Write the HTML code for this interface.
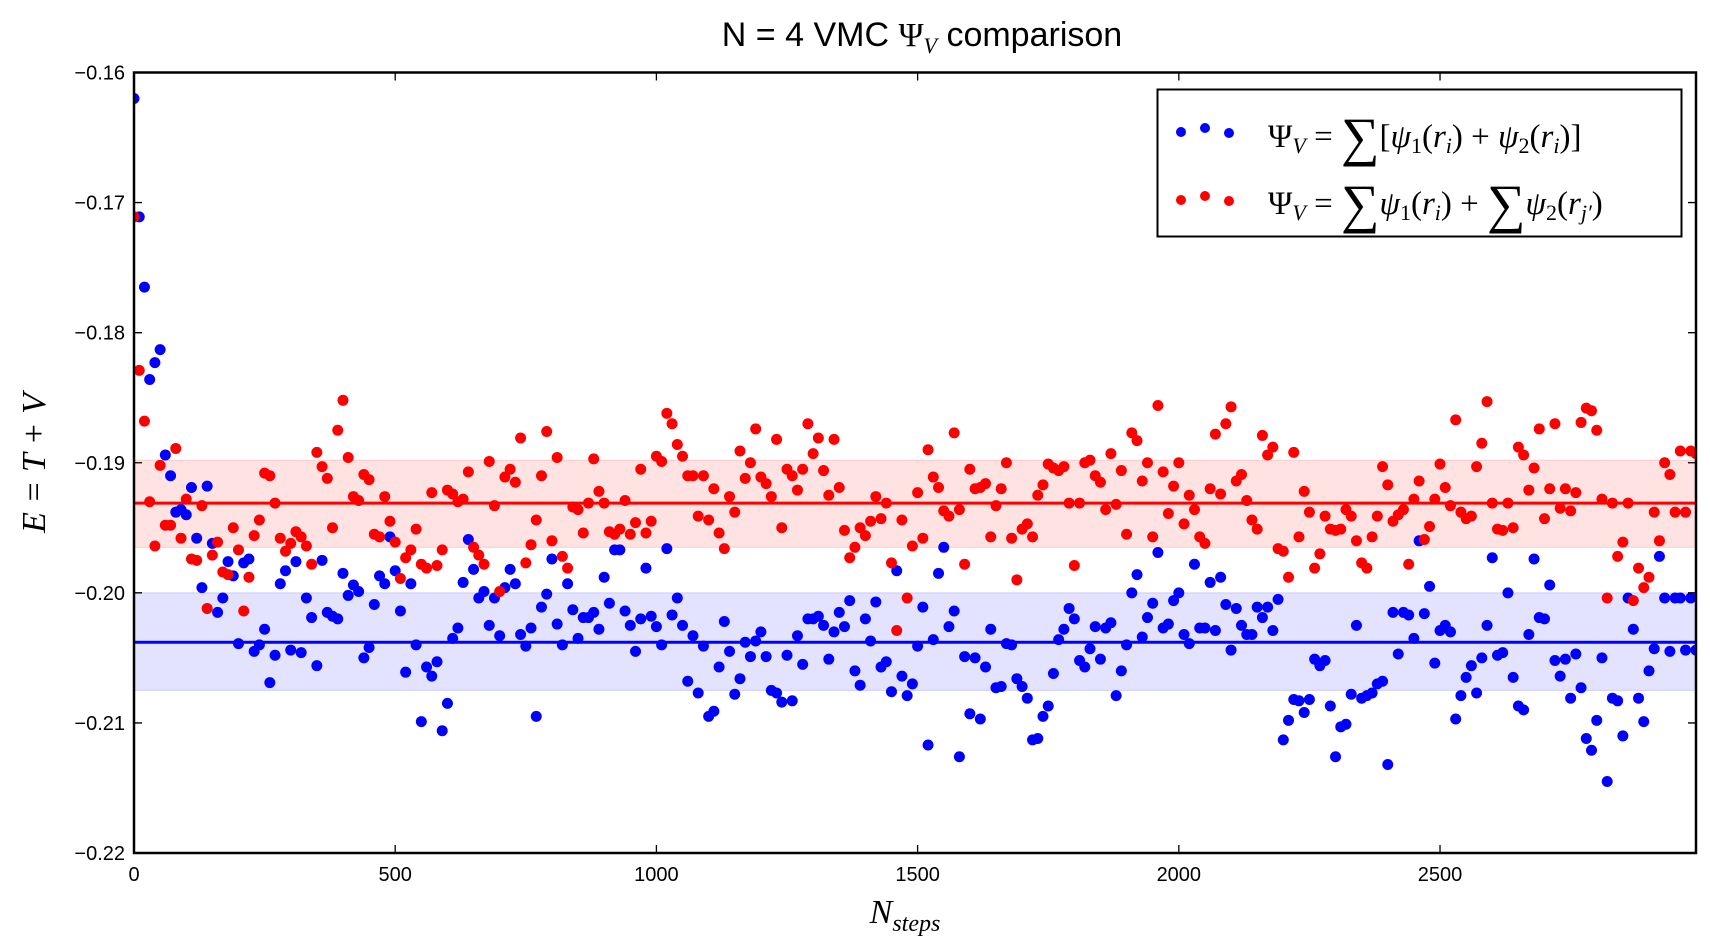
<!DOCTYPE html>
<html><head><meta charset="utf-8"><style>
html,body{margin:0;padding:0;background:#fff;}
svg{display:block;}
text{font-family:"Liberation Sans",sans-serif;}
.m{font-family:"Liberation Serif",serif;}
</style></head><body>
<svg id="chart" width="1710" height="950" viewBox="0 0 1710 950">
<text x="922" y="46" font-size="34" text-anchor="middle">N = 4 VMC <tspan class="m" font-size="34">Ψ</tspan><tspan class="m" font-style="italic" font-size="22" dy="7">V</tspan><tspan dy="-7"> comparison</tspan></text>
<g id="plot"></g>
<text class="m" font-style="italic" font-size="34" transform="translate(45,463) rotate(-90)" text-anchor="middle">E = T + V</text>
<text class="m" font-style="italic" font-size="34" x="905" y="923" text-anchor="middle">N<tspan font-size="24" dy="8">steps</tspan></text>
<g>
<rect x="1157.5" y="89.5" width="524" height="147" fill="#fff" stroke="#000" stroke-width="2"/>
<g>
<circle cx="1181" cy="132" r="5" fill="#00f"/><circle cx="1205" cy="128" r="5" fill="#00f"/><circle cx="1229" cy="133" r="5" fill="#00f"/>
<text class="m" x="1268" y="147" font-size="33">Ψ<tspan font-style="italic" font-size="22" dy="6">V</tspan><tspan dy="-6"> = </tspan><tspan font-size="54" dy="8">∑</tspan><tspan dy="-8">[</tspan><tspan font-style="italic">ψ</tspan><tspan font-size="22" dy="6">1</tspan><tspan dy="-6">(</tspan><tspan font-style="italic">r</tspan><tspan font-style="italic" font-size="22" dy="6">i</tspan><tspan dy="-6">) + </tspan><tspan font-style="italic">ψ</tspan><tspan font-size="22" dy="6">2</tspan><tspan dy="-6">(</tspan><tspan font-style="italic">r</tspan><tspan font-style="italic" font-size="22" dy="6">i</tspan><tspan dy="-6">)]</tspan></text>
</g>
<g>
<circle cx="1181" cy="200" r="5" fill="#f00"/><circle cx="1205" cy="196" r="5" fill="#f00"/><circle cx="1229" cy="201" r="5" fill="#f00"/>
<text class="m" x="1268" y="214" font-size="33">Ψ<tspan font-style="italic" font-size="22" dy="6">V</tspan><tspan dy="-6"> = </tspan><tspan font-size="54" dy="8">∑</tspan><tspan dy="-8" font-style="italic">ψ</tspan><tspan font-size="22" dy="6">1</tspan><tspan dy="-6">(</tspan><tspan font-style="italic">r</tspan><tspan font-style="italic" font-size="22" dy="6">i</tspan><tspan dy="-6">) + </tspan><tspan font-size="54" dy="8">∑</tspan><tspan dy="-8" font-style="italic">ψ</tspan><tspan font-size="22" dy="6">2</tspan><tspan dy="-6">(</tspan><tspan font-style="italic">r</tspan><tspan font-style="italic" font-size="22" dy="6">j′</tspan><tspan dy="-6">)</tspan></text>
</g>
</g>
</svg>
<script>
const blueVals=[-0.1620,-0.1711,-0.1765,-0.1836,-0.1823,-0.1813,-0.1894,-0.1910,-0.1938,-0.1936,-0.1940,-0.1919,-0.1958,-0.1996,-0.1918,-0.1962,-0.2015,-0.2004,-0.1976,-0.1987,-0.2039,-0.1977,-0.1974,-0.2045,-0.2040,-0.2028,-0.2069,-0.2048,-0.1993,-0.1983,-0.2044,-0.1976,-0.2046,-0.2004,-0.2019,-0.2056,-0.1975,-0.2015,-0.2018,-0.2020,-0.1985,-0.2002,-0.1994,-0.1999,-0.2050,-0.2042,-0.2009,-0.1987,-0.1993,-0.1957,-0.1983,-0.2014,-0.2061,-0.1993,-0.2040,-0.2099,-0.2057,-0.2064,-0.2053,-0.2106,-0.2085,-0.2035,-0.2027,-0.1992,-0.1959,-0.1982,-0.2004,-0.1999,-0.2025,-0.2004,-0.2033,-0.1996,-0.1982,-0.1993,-0.2032,-0.2041,-0.2027,-0.2095,-0.2011,-0.2001,-0.1974,-0.2024,-0.2040,-0.1993,-0.2013,-0.2035,-0.2019,-0.2019,-0.2015,-0.2028,-0.1988,-0.2008,-0.1967,-0.1967,-0.2014,-0.2025,-0.2045,-0.2020,-0.1981,-0.2018,-0.2026,-0.2040,-0.1966,-0.2017,-0.2004,-0.2025,-0.2068,-0.2033,-0.2077,-0.2041,-0.2095,-0.2091,-0.2057,-0.2022,-0.2045,-0.2078,-0.2066,-0.2038,-0.2049,-0.2037,-0.2030,-0.2049,-0.2075,-0.2077,-0.2084,-0.2048,-0.2083,-0.2033,-0.2055,-0.2020,-0.2020,-0.2018,-0.2025,-0.2051,-0.2030,-0.2015,-0.2026,-0.2006,-0.2060,-0.2071,-0.2020,-0.2037,-0.2007,-0.2057,-0.2053,-0.2076,-0.1983,-0.2064,-0.2079,-0.2070,-0.2041,-0.2011,-0.2117,-0.2036,-0.1985,-0.1965,-0.2026,-0.2014,-0.2126,-0.2049,-0.2093,-0.2050,-0.2097,-0.2057,-0.2028,-0.2073,-0.2072,-0.2039,-0.2040,-0.2066,-0.2072,-0.2081,-0.2113,-0.2112,-0.2095,-0.2087,-0.2062,-0.2036,-0.2028,-0.2012,-0.2020,-0.2052,-0.2057,-0.2043,-0.2026,-0.2051,-0.2027,-0.2023,-0.2079,-0.2060,-0.2040,-0.2000,-0.1986,-0.2034,-0.2019,-0.2008,-0.1969,-0.2027,-0.2024,-0.2006,-0.2000,-0.2032,-0.2039,-0.1978,-0.2027,-0.2027,-0.1992,-0.2029,-0.1988,-0.2009,-0.2044,-0.2012,-0.2025,-0.2032,-0.2032,-0.2011,-0.2019,-0.2011,-0.2029,-0.2005,-0.2113,-0.2098,-0.2082,-0.2083,-0.2092,-0.2082,-0.2051,-0.2056,-0.2052,-0.2087,-0.2126,-0.2103,-0.2101,-0.2078,-0.2025,-0.2081,-0.2079,-0.2077,-0.2070,-0.2068,-0.2132,-0.2015,-0.2047,-0.2015,-0.2017,-0.2035,-0.1960,-0.2016,-0.1995,-0.2054,-0.2029,-0.2025,-0.2030,-0.2097,-0.2079,-0.2065,-0.2056,-0.2077,-0.2050,-0.2025,-0.1973,-0.2048,-0.2046,-0.2000,-0.2065,-0.2087,-0.2090,-0.2032,-0.1974,-0.2019,-0.2020,-0.1994,-0.2052,-0.2064,-0.2051,-0.2081,-0.2047,-0.2073,-0.2112,-0.2121,-0.2098,-0.2050,-0.2145,-0.2081,-0.2083,-0.2110,-0.2004,-0.2028,-0.2081,-0.2099,-0.2060,-0.2043,-0.1972,-0.2004,-0.2045,-0.2004,-0.2004,-0.2044,-0.2004,-0.2044];
const redVals=[-0.1711,-0.1829,-0.1868,-0.1930,-0.1964,-0.1902,-0.1948,-0.1948,-0.1889,-0.1958,-0.1928,-0.1974,-0.1975,-0.1933,-0.2012,-0.1971,-0.1961,-0.1984,-0.1986,-0.1950,-0.1967,-0.2014,-0.1988,-0.1956,-0.1944,-0.1908,-0.1910,-0.1931,-0.1958,-0.1968,-0.1962,-0.1953,-0.1957,-0.1964,-0.1978,-0.1892,-0.1903,-0.1912,-0.1950,-0.1875,-0.1852,-0.1896,-0.1926,-0.1929,-0.1909,-0.1913,-0.1955,-0.1957,-0.1926,-0.1945,-0.1961,-0.1989,-0.1973,-0.1967,-0.1951,-0.1978,-0.1981,-0.1923,-0.1979,-0.1967,-0.1921,-0.1924,-0.1930,-0.1928,-0.1907,-0.1965,-0.1971,-0.1978,-0.1899,-0.1933,-0.1999,-0.1911,-0.1905,-0.1915,-0.1881,-0.1977,-0.1963,-0.1944,-0.1910,-0.1876,-0.1960,-0.1896,-0.1972,-0.1981,-0.1934,-0.1936,-0.1954,-0.1931,-0.1897,-0.1922,-0.1931,-0.1953,-0.1955,-0.1951,-0.1929,-0.1955,-0.1946,-0.1905,-0.1954,-0.1945,-0.1895,-0.1899,-0.1862,-0.1870,-0.1886,-0.1895,-0.1910,-0.1910,-0.1941,-0.1910,-0.1944,-0.1920,-0.1954,-0.1966,-0.1926,-0.1938,-0.1891,-0.1912,-0.1900,-0.1874,-0.1911,-0.1916,-0.1926,-0.1882,-0.1950,-0.1905,-0.1910,-0.1921,-0.1905,-0.1870,-0.1893,-0.1881,-0.1906,-0.1925,-0.1882,-0.1919,-0.1952,-0.1973,-0.1965,-0.1950,-0.1956,-0.1945,-0.1926,-0.1943,-0.1931,-0.1977,-0.2029,-0.1944,-0.2004,-0.1964,-0.1923,-0.1958,-0.1890,-0.1911,-0.1919,-0.1937,-0.1941,-0.1877,-0.1936,-0.1978,-0.1905,-0.1920,-0.1919,-0.1916,-0.1957,-0.1933,-0.1920,-0.1900,-0.1958,-0.1990,-0.1951,-0.1947,-0.1957,-0.1925,-0.1917,-0.1901,-0.1904,-0.1906,-0.1903,-0.1931,-0.1979,-0.1931,-0.1900,-0.1898,-0.1910,-0.1915,-0.1936,-0.1893,-0.1932,-0.1906,-0.1955,-0.1877,-0.1883,-0.1914,-0.1900,-0.1957,-0.1856,-0.1907,-0.1939,-0.1918,-0.1900,-0.1947,-0.1925,-0.1936,-0.1957,-0.1962,-0.1920,-0.1878,-0.1924,-0.1870,-0.1857,-0.1914,-0.1909,-0.1929,-0.1944,-0.1951,-0.1879,-0.1894,-0.1888,-0.1966,-0.1968,-0.1988,-0.1892,-0.1957,-0.1922,-0.1938,-0.1981,-0.1970,-0.1941,-0.1951,-0.1952,-0.1951,-0.1936,-0.1941,-0.1960,-0.1977,-0.1981,-0.1957,-0.1941,-0.1903,-0.1917,-0.1945,-0.1940,-0.1936,-0.1978,-0.1928,-0.1914,-0.1959,-0.1949,-0.1928,-0.1901,-0.1919,-0.1933,-0.1867,-0.1938,-0.1943,-0.1941,-0.1903,-0.1885,-0.1853,-0.1931,-0.1951,-0.1952,-0.1931,-0.1950,-0.1888,-0.1894,-0.1921,-0.1904,-0.1874,-0.1943,-0.1920,-0.1870,-0.1935,-0.1920,-0.1937,-0.1923,-0.1869,-0.1858,-0.1860,-0.1875,-0.1928,-0.2004,-0.1931,-0.1972,-0.1961,-0.1931,-0.2006,-0.1981,-0.1996,-0.1988,-0.1938,-0.1960,-0.1900,-0.1909,-0.1938,-0.1891,-0.1938,-0.1891,-0.1893];
const stepSize=10;
const blueMean=-0.2038, blueBand=[-0.2000,-0.2075];
const redMean=-0.1931, redBand=[-0.1898,-0.1965];
const yTicks=[-0.16,-0.17,-0.18,-0.19,-0.20,-0.21,-0.22];
const yTickLabels=["−0.16","−0.17","−0.18","−0.19","−0.20","−0.21","−0.22"];
const xTicks=[0,500,1000,1500,2000,2500];
const xTickLabels=["0","500","1000","1500","2000","2500"];
const X0=134,X1=1696,Y0=72.5,Y1=853,xMin=0,xMax=2990,yMin=-0.22,yMax=-0.16;
const xs=v=>X0+(v-xMin)/(xMax-xMin)*(X1-X0);
const ys=v=>Y1-(v-yMin)/(yMax-yMin)*(Y1-Y0);
const NS="http://www.w3.org/2000/svg";
const g=document.getElementById('plot');
function mk(t,a){const e=document.createElementNS(NS,t);for(const k in a)e.setAttribute(k,a[k]);g.appendChild(e);return e;}
let e;
e=mk('rect',{x:X0,y:ys(redBand[0]),width:X1-X0,height:ys(redBand[1])-ys(redBand[0]),fill:'rgba(255,0,0,0.11)',stroke:'rgba(255,0,0,0.15)'});


e=mk('rect',{x:X0,y:ys(blueBand[0]),width:X1-X0,height:ys(blueBand[1])-ys(blueBand[0]),fill:'rgba(0,0,255,0.11)',stroke:'rgba(0,0,255,0.15)'});


e=mk('line',{x1:X0,x2:X1,y1:ys(redMean),y2:ys(redMean),stroke:'#f00','stroke-width':3});


e=mk('line',{x1:X0,x2:X1,y1:ys(blueMean),y2:ys(blueMean),stroke:'#00f','stroke-width':3});


blueVals.forEach((v,i)=>{const c=mk('circle',{cx:xs(i*stepSize),cy:ys(v),r:5.5,fill:'#00f'});

});
redVals.forEach((v,i)=>{const c=mk('circle',{cx:xs(i*stepSize),cy:ys(v),r:5.5,fill:'#f00'});

});
e=mk('rect',{x:0,y:0,width:X0,height:950,fill:'#fff'});


e=mk('rect',{x:X1,y:0,width:1710-X1,height:950,fill:'#fff'});


e=mk('rect',{x:X0,y:Y0,width:X1-X0,height:Y1-Y0,fill:'none',stroke:'#000','stroke-width':2.5});


yTicks.forEach((t,i)=>{const y=ys(t);
e=mk('path',{d:`M${X0},${y}h8M${X1},${y}h-8`,stroke:'#000','stroke-width':1.3});


const tx=mk('text',{x:X0-9,y:y+7,'font-size':20,'text-anchor':'end'});tx.textContent=yTickLabels[i];

});
xTicks.forEach((t,i)=>{const x=xs(t);
e=mk('path',{d:`M${x},${Y1}v-8M${x},${Y0}v8`,stroke:'#000','stroke-width':1.3});


const tx=mk('text',{x:x,y:Y1+28,'font-size':20,'text-anchor':'middle'});tx.textContent=xTickLabels[i];

});
</script>
</body></html>
